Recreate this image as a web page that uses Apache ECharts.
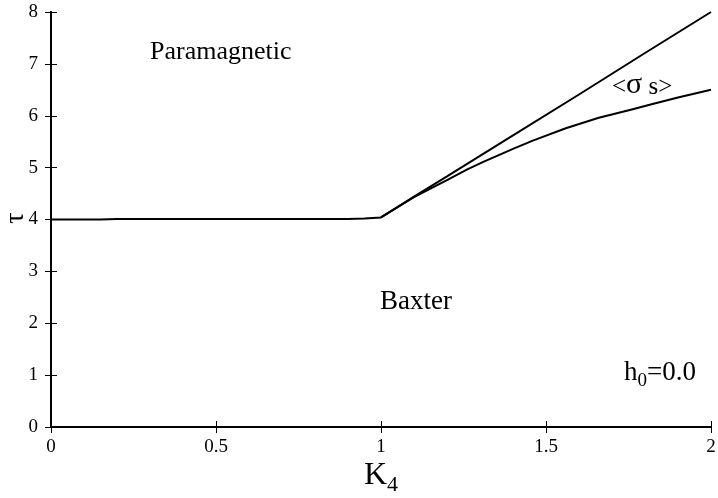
<!DOCTYPE html>
<html>
<head>
<meta charset="utf-8">
<script src="https://cdn.jsdelivr.net/npm/echarts@6/dist/echarts.min.js"></script>
<style>
  html, body { margin: 0; padding: 0; background: #fff; }
  #chart { width: 718px; height: 498px; }
</style>
</head>
<body>
<div id="chart"></div>
<script>
// Phase boundary tau(K4) at h0 = 0.0
// Upper boundary: flat at tau = 4 up to K4 = 1, then a straight rise to 8
const upperK4  = [0.00, 0.15, 0.20, 0.50, 0.90, 0.95, 1.00, 1.05, 1.10, 1.20, 1.40, 1.60, 1.80, 2.00];
const upperTau = [4.00, 4.00, 4.01, 4.01, 4.01, 4.02, 4.04, 4.24, 4.44, 4.83, 5.62, 6.41, 7.21, 8.00];

// <sigma s> boundary branching off above K4 = 1
const lowerK4  = [1.00, 1.05, 1.10, 1.16, 1.20, 1.26, 1.31, 1.40, 1.46, 1.56, 1.66, 1.76, 1.82, 1.90, 2.00];
const lowerTau = [4.04, 4.24, 4.43, 4.63, 4.76, 4.96, 5.11, 5.36, 5.52, 5.76, 5.96, 6.12, 6.22, 6.35, 6.50];

const xTicks = [0, 0.5, 1, 1.5, 2];
const yTicks = [0, 1, 2, 3, 4, 5, 6, 7, 8];

const serif = 'Liberation Serif';
const pairs = (xs, ys) => xs.map((x, i) => [x, ys[i]]);

const chart = echarts.init(document.getElementById('chart'), null, { renderer: 'canvas' });

const axisBase = {
  axisLine: { show: true, lineStyle: { color: '#000', width: 2 } },
  axisTick: { show: true, inside: true, length: 6, lineStyle: { color: '#000', width: 1 } },
  splitLine: { show: false }
};

chart.setOption({
  animation: false,
  backgroundColor: '#fff',
  grid: { left: 51, right: 7, top: 12, bottom: 71, containLabel: false, outerBoundsMode: 'none' },
  xAxis: [
    Object.assign({}, axisBase, {
      type: 'value', position: 'bottom',
      min: xTicks[0], max: xTicks[xTicks.length - 1], interval: 0.5,
      axisLabel: { color: '#000', fontFamily: serif, fontSize: 19, margin: 11,
                   showMinLabel: true, showMaxLabel: true },
      name: '{k|K}{s|4}',
      nameLocation: 'middle',
      nameMoveOverlap: false,
      nameGap: 33,
      nameTextStyle: {
        rich: {
          k: { fontFamily: serif, fontSize: 32, color: '#000', verticalAlign: 'top' },
          s: { fontFamily: serif, fontSize: 22, color: '#000', verticalAlign: 'top', padding: [14, 0, 0, 0] }
        }
      }
    }),
    Object.assign({}, axisBase, {
      type: 'value', position: 'top',
      min: xTicks[0], max: xTicks[xTicks.length - 1], interval: 0.5,
      axisLabel: { show: false }
    })
  ],
  yAxis: [
    Object.assign({}, axisBase, {
      type: 'value', position: 'left',
      min: yTicks[0], max: yTicks[yTicks.length - 1], interval: 1,
      axisLabel: { color: '#000', fontFamily: serif, fontSize: 19, margin: 13 }
    }),
    Object.assign({}, axisBase, {
      type: 'value', position: 'right',
      min: yTicks[0], max: yTicks[yTicks.length - 1], interval: 1,
      axisLabel: { show: false }
    })
  ],
  series: [
    {
      type: 'line', data: pairs(upperK4, upperTau),
      symbol: 'none', lineStyle: { color: '#000', width: 2 }, z: 3
    },
    {
      type: 'line', data: pairs(lowerK4, lowerTau),
      symbol: 'none', smooth: false,
      lineStyle: { color: '#000', width: 2, join: 'round' }, z: 3
    }
  ],
  graphic: [
    // rotated y-axis title
    { type: 'text', x: 16, y: 218, rotation: Math.PI / 2,
      style: { text: 'τ', font: '28px "Liberation Serif"', fill: '#000',
               align: 'center', verticalAlign: 'middle' } },
    { type: 'text', left: 150, top: 39,
      style: { text: 'Paramagnetic', font: '26px "Liberation Serif"', fill: '#000' } },
    { type: 'text', left: 380, top: 288,
      style: { text: 'Baxter', font: '27px "Liberation Serif"', fill: '#000' } },
    { type: 'text', left: 612, top: 70,
      style: {
        text: '{a|<}{g|σ}{a| s>}',
        rich: {
          a: { fontFamily: serif, fontSize: 25, fill: '#000', verticalAlign: 'bottom' },
          g: { fontFamily: serif, fontSize: 30, fill: '#000', verticalAlign: 'bottom' }
        }
      } },
    { type: 'text', left: 624, top: 359,
      style: {
        text: '{h|h}{s|0}{h|=0.0}',
        rich: {
          h: { fontFamily: serif, fontSize: 27, fill: '#000', verticalAlign: 'top' },
          s: { fontFamily: serif, fontSize: 19, fill: '#000', verticalAlign: 'top', padding: [13, 0, 0, 0] }
        }
      } }
  ]
});
</script>
</body>
</html>
